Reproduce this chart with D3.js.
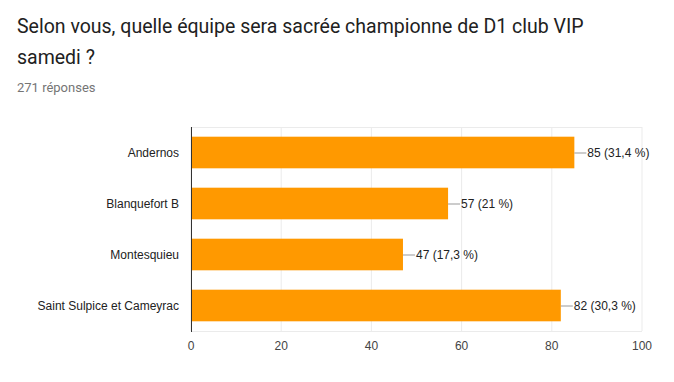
<!DOCTYPE html>
<html lang="fr">
<head>
<meta charset="UTF-8">
<title>D1 club VIP</title>
<style>
  body { margin: 0; background: #fff; }
  svg { display: block; font-family: "Liberation Sans", Arial, sans-serif; }
</style>
<script src="https://d3js.org/d3.v7.min.js"></script>
</head>
<body>
<svg width="674" height="382"></svg>
<script>
  // data
  const teams = ['Andernos', 'Blanquefort B', 'Montesquieu', 'Saint Sulpice et Cameyrac'];
  const votes = [85, 57, 47, 82];
  const percents = ['31,4', '21', '17,3', '30,3'];
  const ticks = [0, 20, 40, 60, 80, 100];

  const svg = d3.select('svg');

  // title + count
  svg.append('text').attr('x', 17).attr('y', 33)
    .attr('font-family', 'Roboto, sans-serif').attr('font-size', 19.5).attr('fill', '#212121')
    .text('Selon vous, quelle équipe sera sacrée championne de D1 club VIP');
  svg.append('text').attr('x', 17).attr('y', 64)
    .attr('font-family', 'Roboto, sans-serif').attr('font-size', 19.5).attr('fill', '#212121')
    .text('samedi ?');
  svg.append('text').attr('x', 17).attr('y', 92)
    .attr('font-family', 'Roboto, sans-serif').attr('font-size', 13).attr('fill', '#757575')
    .text('271 réponses');

  const plotL = 191, plotR = 642, plotT = 127, plotB = 331;

  const x = d3.scaleLinear().domain([0, 100]).range([plotL, plotR]);
  const y = d3.scaleBand().domain(teams).range([plotT, plotB]).paddingInner(0.38).paddingOuter(0.19);

  // grid
  svg.append('g').selectAll('line').data(ticks).join('line')
    .attr('x1', d => x(d)).attr('x2', d => x(d))
    .attr('y1', plotT).attr('y2', plotB)
    .attr('stroke', '#ebebeb').attr('stroke-width', 1);
  svg.append('line').attr('x1', plotL).attr('x2', plotR).attr('y1', plotT + 0.5).attr('y2', plotT + 0.5)
    .attr('stroke', '#ebebeb');
  svg.append('line').attr('x1', plotL).attr('x2', plotR).attr('y1', plotB + 0.5).attr('y2', plotB + 0.5)
    .attr('stroke', '#ebebeb');

  // bars
  svg.append('g').selectAll('rect').data(teams).join('rect')
    .attr('x', x(0))
    .attr('y', d => y(d))
    .attr('width', (d, i) => x(votes[i]) - x(0))
    .attr('height', y.bandwidth())
    .attr('fill', '#ff9900');

  // leader lines + value labels
  const lab = svg.append('g');
  teams.forEach((t, i) => {
    const cy = y(t) + y.bandwidth() / 2;
    lab.append('line')
      .attr('x1', x(votes[i])).attr('x2', x(votes[i]) + 12)
      .attr('y1', cy + 0.5).attr('y2', cy + 0.5)
      .attr('stroke', '#999').attr('stroke-width', 1);
    lab.append('text')
      .attr('x', x(votes[i]) + 13).attr('y', cy + 4)
      .attr('font-size', 12).attr('fill', '#222')
      .text(votes[i] + ' (' + percents[i] + ' %)');
  });

  // category labels
  svg.append('g').selectAll('text').data(teams).join('text')
    .attr('x', 179).attr('y', d => y(d) + y.bandwidth() / 2 + 4)
    .attr('text-anchor', 'end').attr('font-size', 12).attr('fill', '#222')
    .text(d => d);

  // axis line
  svg.append('line').attr('x1', plotL + 0.5).attr('x2', plotL + 0.5)
    .attr('y1', plotT).attr('y2', plotB + 1)
    .attr('stroke', '#333').attr('stroke-width', 1);

  // x tick labels
  svg.append('g').selectAll('text').data(ticks).join('text')
    .attr('x', d => x(d)).attr('y', 350)
    .attr('text-anchor', 'middle').attr('font-size', 12).attr('fill', '#444')
    .text(d => d);
</script>
</body>
</html>
